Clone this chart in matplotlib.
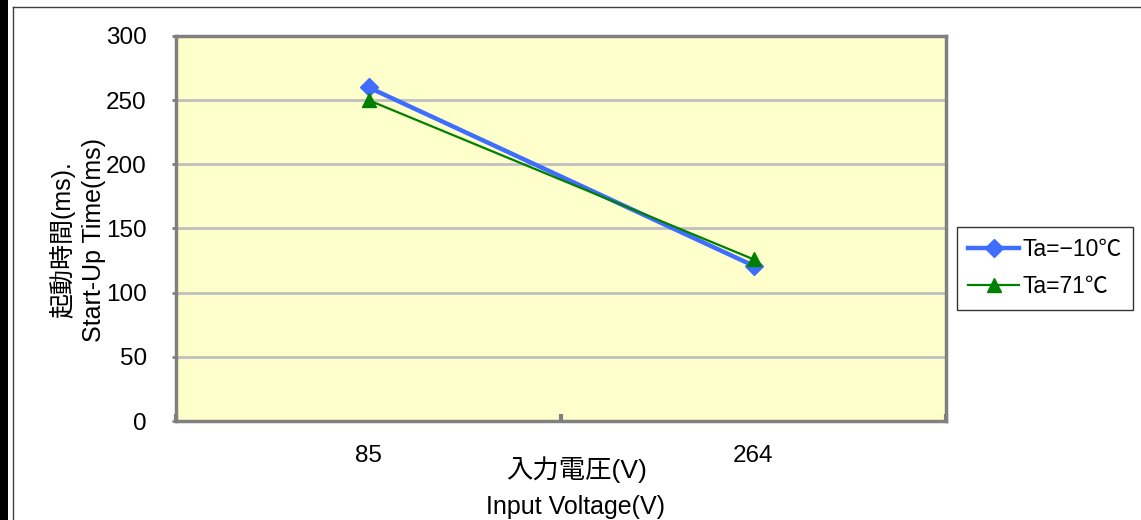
"""起動時間 vs 入力電圧 グラフ。"""

import matplotlib

matplotlib.use("Agg")
import matplotlib.pyplot as plt
from matplotlib.lines import Line2D
from matplotlib.patches import Rectangle

plt.rcParams["font.family"] = ["Liberation Sans", "Noto Sans CJK JP", "DejaVu Sans"]

# データ
voltages = ["85", "264"]
series_names = ["Ta=−10℃", "Ta=71℃"]
start_up_m10 = [260, 121]
start_up_71 = [250, 126]
y_ticks = [0, 50, 100, 150, 200, 250, 300]

W, H = 1141, 520
fig = plt.figure(figsize=(W / 100, H / 100), dpi=100)
fig.patch.set_facecolor("white")

# 左端の黒帯と外枠
fig.add_artist(Rectangle((0, 0), 8 / W, 1, transform=fig.transFigure, color="black", lw=0))
fig.add_artist(Line2D([12.5 / W, 12.5 / W], [0, 1 - 6.5 / H], transform=fig.transFigure, color="#404040", lw=1))
fig.add_artist(Line2D([12.5 / W, 1], [1 - 6.5 / H, 1 - 6.5 / H], transform=fig.transFigure, color="#404040", lw=1))

ax = fig.add_axes([176 / W, 99 / H, 770 / W, 385 / H])
ax.set_facecolor("#FFFFCC")

x = [i + 0.5 for i in range(len(voltages))]
ax.plot(x, start_up_m10, color="#3F6EFF", lw=3.2, marker="D", ms=9, label=series_names[0], zorder=3)
ax.plot(x, start_up_71, color="#008000", lw=1.6, marker="^", ms=10, label=series_names[1], zorder=4)

ax.set_xlim(0, len(voltages))
ax.set_ylim(0, 300)
ax.set_yticks(y_ticks)
ax.set_yticklabels([str(v) for v in y_ticks], fontsize=17.5)
ax.tick_params(axis="y", direction="out", length=3, width=2, color="#808080", pad=18)
ax.grid(axis="y", color="#C0C0C0", lw=2)
ax.set_axisbelow(True)

ax.set_xticks(range(len(voltages) + 1))
ax.set_xticklabels([])
ax.set_xticks(x, minor=True)
ax.set_xticklabels(voltages, minor=True, fontsize=17.5)
ax.tick_params(axis="x", which="major", direction="in", length=5, width=3, color="#808080")
ax.tick_params(axis="x", which="minor", length=0, pad=17)

for s in ax.spines.values():
    s.set_color("#808080")
    s.set_linewidth(2.5)

fig.text(78 / W, 1 - 240 / H, "起動時間(ms).\nStart-Up Time(ms)", rotation=90,
         ha="center", va="center", multialignment="center", fontsize=18, linespacing=1.35)
fig.text(577 / W, 1 - 470 / H, "入力電圧(V)", ha="center", va="center", fontsize=19)
fig.text(575 / W, 1 - 507 / H, "Input Voltage(V)", ha="center", va="center", fontsize=18)

leg = fig.legend(loc="upper left", bbox_to_anchor=(957 / W, 1 - 227 / H), fontsize=16.5,
                 frameon=True, fancybox=False, edgecolor="black", handlelength=2.2,
                 borderpad=0.5, labelspacing=0.6, handletextpad=0.15, borderaxespad=0)
leg.get_frame().set_linewidth(1)

fig.savefig("out.png", dpi=100)
